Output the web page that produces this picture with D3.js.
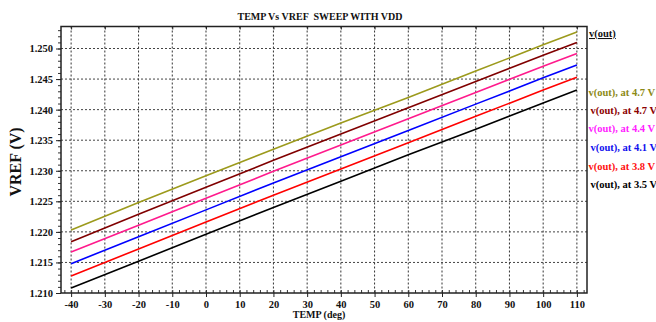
<!DOCTYPE html>
<html>
<head>
<meta charset="utf-8">
<script src="https://cdn.jsdelivr.net/npm/d3@7"></script>
<style>
  html, body { margin: 0; padding: 0; background: #fff; }
  svg { display: block; font-family: "Liberation Serif", "Times New Roman", serif; font-weight: bold; }
</style>
</head>
<body>
<svg id="chart"></svg>
<script>
// Temperature sweep points (deg)
const temps = [-40, -20, 0, 20, 40, 60, 80, 100, 110];

// VREF per supply voltage
const vdd47a = [1.2203, 1.2248, 1.2292, 1.2335, 1.2378, 1.2420, 1.2463, 1.2506, 1.2527];
const vdd47b = [1.2184, 1.2229, 1.2273, 1.2317, 1.2360, 1.2403, 1.2446, 1.2489, 1.2510];
const vdd44 = [1.2167, 1.2211, 1.2255, 1.2299, 1.2342, 1.2385, 1.2428, 1.2471, 1.2492];
const vdd41 = [1.2148, 1.2192, 1.2236, 1.2280, 1.2323, 1.2366, 1.2409, 1.2452, 1.2473];
const vdd38 = [1.2128, 1.2172, 1.2216, 1.2260, 1.2303, 1.2346, 1.2389, 1.2432, 1.2453];
const vdd35 = [1.2108, 1.2152, 1.2196, 1.2240, 1.2283, 1.2326, 1.2368, 1.2411, 1.2432];

const seriesLabels = ['v(out), at 4.7 V', 'v(out), at 4.7 V', 'v(out), at 4.4 V',
  'v(out), at 4.1 V', 'v(out), at 3.8 V', 'v(out), at 3.5 V'];
const lineColors = ['#9c9a1c', '#800000', '#ff1a8c', '#0000ff', '#ff0000', '#000000'];
const labelColors = ['#8c8a16', '#8b0000', '#ff22ff', '#1010ee', '#ff1010', '#000000'];
const labelY = [92, 110, 128, 147, 166, 184];

const xTicks = [-40, -30, -20, -10, 0, 10, 20, 30, 40, 50, 60, 70, 80, 90, 100, 110];
const yTicks = [1.210, 1.215, 1.220, 1.225, 1.230, 1.235, 1.240, 1.245, 1.250];

const allSeries = [vdd47a, vdd47b, vdd44, vdd41, vdd38, vdd35];

const totalWidth = 656;
const totalHeight = 322;
const plot = { left: 61, right: 587, top: 26.5, bottom: 293 };

const svg = d3.select('#chart')
  .attr('width', totalWidth)
  .attr('height', totalHeight);

const x = d3.scaleLinear().domain([-43, 113]).range([plot.left, plot.right]);
const y = d3.scaleLinear().domain([1.210, 1.2536]).range([plot.bottom, plot.top]);

// Grid
svg.append('g')
  .selectAll('line')
  .data(xTicks)
  .join('line')
  .attr('x1', d => x(d)).attr('x2', d => x(d))
  .attr('y1', plot.top).attr('y2', plot.bottom)
  .attr('stroke', '#333').attr('stroke-width', 1).attr('stroke-dasharray', '2,2');

svg.append('g')
  .selectAll('line')
  .data(yTicks.slice(1))
  .join('line')
  .attr('x1', plot.left).attr('x2', plot.right)
  .attr('y1', d => y(d)).attr('y2', d => y(d))
  .attr('stroke', '#444').attr('stroke-width', 1).attr('stroke-dasharray', '2,2');

// Lines
const line = d3.line()
  .x((d, i) => x(temps[i]))
  .y(d => y(d));

svg.append('g')
  .selectAll('path')
  .data(allSeries)
  .join('path')
  .attr('fill', 'none')
  .attr('stroke', (d, i) => lineColors[i])
  .attr('stroke-width', 1.6)
  .attr('d', line);

// Minor ticks
const xMinor = d3.range(-42, 113, 2);
const yMinor = d3.range(1.210, 1.2536, 0.001);

svg.append('g')
  .attr('transform', `translate(0,${plot.bottom})`)
  .call(d3.axisTop(x).tickValues(xMinor).tickSize(3).tickFormat(''))
  .call(g => g.select('.domain').remove())
  .selectAll('line').attr('stroke', '#333');

svg.append('g')
  .attr('transform', `translate(${plot.left},0)`)
  .call(d3.axisLeft(y).tickValues(yMinor).tickSize(3).tickFormat(''))
  .call(g => g.select('.domain').remove())
  .selectAll('line').attr('stroke', '#333');

// Major axes
svg.append('g')
  .attr('transform', `translate(0,${plot.bottom})`)
  .call(d3.axisBottom(x).tickValues(xTicks).tickSize(4).tickPadding(4).tickFormat(d3.format('d')))
  .call(g => g.select('.domain').remove())
  .call(g => g.selectAll('line').attr('stroke', '#222'))
  .call(g => g.selectAll('text')
    .attr('font-family', 'Liberation Serif').attr('font-weight', 'bold')
    .attr('font-size', 10.5).attr('fill', '#111')
    .text(d => d < 0 ? '-' + Math.abs(d) : d));

svg.append('g')
  .attr('transform', `translate(0,${plot.top})`)
  .call(d3.axisBottom(x).tickValues(xTicks).tickSize(3).tickFormat(''))
  .call(g => g.select('.domain').remove())
  .selectAll('line').attr('stroke', '#222');

svg.append('g')
  .attr('transform', `translate(${plot.left},0)`)
  .call(d3.axisLeft(y).tickValues(yTicks).tickSize(5).tickPadding(3).tickFormat(d3.format('.3f')))
  .call(g => g.select('.domain').remove())
  .call(g => g.selectAll('line').attr('stroke', '#222'))
  .call(g => g.selectAll('text')
    .attr('font-family', 'Liberation Serif').attr('font-weight', 'bold')
    .attr('font-size', 10.5).attr('fill', '#111'));

// Frame
svg.append('rect')
  .attr('x', plot.left).attr('y', plot.top)
  .attr('width', plot.right - plot.left).attr('height', plot.bottom - plot.top)
  .attr('fill', 'none').attr('stroke', '#222').attr('stroke-width', 1.5);

// Title and axis labels
svg.append('text')
  .attr('x', 320).attr('y', 20)
  .attr('text-anchor', 'middle').attr('font-size', 10).attr('fill', '#111')
  .attr('xml:space', 'preserve')
  .text('TEMP Vs VREF  SWEEP WITH VDD');

svg.append('text')
  .attr('x', 319).attr('y', 318)
  .attr('text-anchor', 'middle').attr('font-size', 10).attr('fill', '#111')
  .text('TEMP (deg)');

svg.append('text')
  .attr('transform', 'translate(21,162) rotate(-90)')
  .attr('text-anchor', 'middle').attr('font-size', 16).attr('fill', '#111')
  .text('VREF (V)');

// Legend
svg.append('text')
  .attr('x', 589).attr('y', 37)
  .attr('font-size', 10.5).attr('fill', '#111')
  .attr('text-decoration', 'underline')
  .text('v(out)');

svg.append('g')
  .selectAll('text')
  .data(seriesLabels)
  .join('text')
  .attr('x', (d, i) => i % 2 === 0 ? 588.5 : 590.5)
  .attr('y', (d, i) => labelY[i] + 4)
  .attr('font-size', 10.5)
  .attr('fill', (d, i) => labelColors[i])
  .text(d => d);
</script>
</body>
</html>
